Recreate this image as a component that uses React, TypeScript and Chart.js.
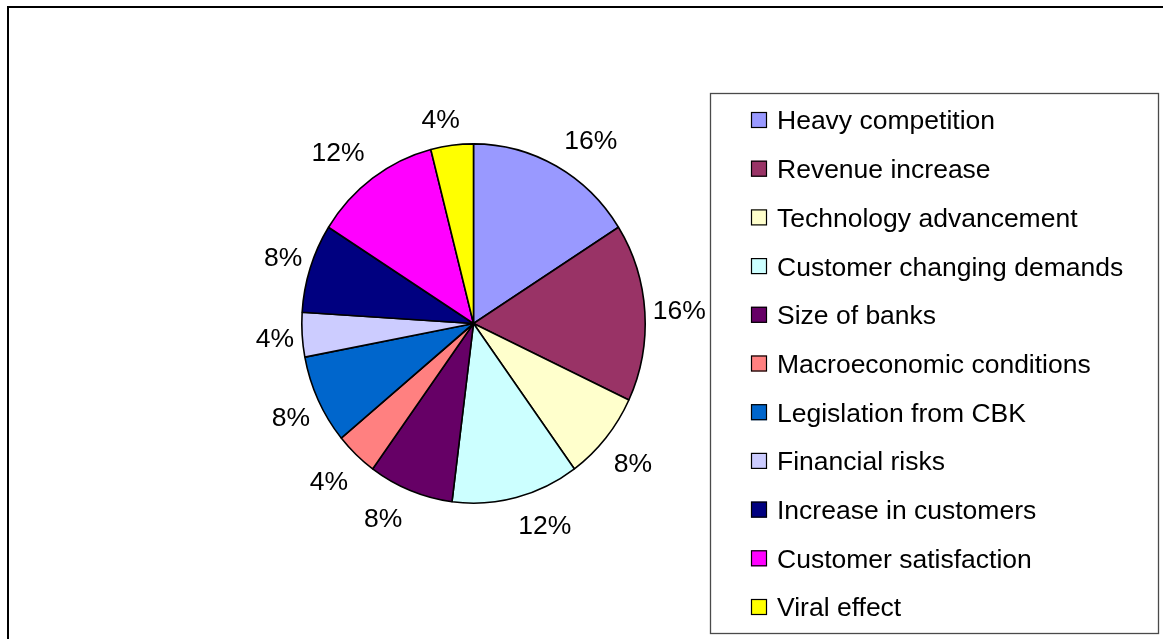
import React, { useEffect, useRef } from "react";
import { Chart, registerables } from "chart.js";

Chart.register(...registerables);

const categories: string[] = [
  "Heavy competition",
  "Revenue increase",
  "Technology advancement",
  "Customer changing demands",
  "Size of banks",
  "Macroeconomic conditions",
  "Legislation from CBK",
  "Financial risks",
  "Increase in customers",
  "Customer satisfaction",
  "Viral effect",
];

const shares: number[] = [16, 16, 8, 12, 8, 4, 8, 4, 8, 12, 4];

const sliceColors: string[] = [
  "#9999FF",
  "#993366",
  "#FFFFCC",
  "#CCFFFF",
  "#660066",
  "#FF8080",
  "#0066CC",
  "#CCCCFF",
  "#000080",
  "#FF00FF",
  "#FFFF00",
];

const W = 1163;
const H = 639;
const FONT = '"Liberation Sans", Arial, sans-serif';
const FS = 26.5;
const Y_STRETCH = 179.5 / 171.5;

const clamp = (v: number, a: number, b: number) => Math.max(a, Math.min(b, v));

const stretchPlugin = {
  id: "stretch",
  beforeDatasetsDraw(chart: any) {
    const arc = chart.getDatasetMeta(0).data[0];
    const ctx = chart.ctx;
    ctx.save();
    ctx.translate(arc.x, arc.y);
    ctx.scale(1, Y_STRETCH);
    ctx.translate(-arc.x, -arc.y);
  },
  afterDatasetsDraw(chart: any) {
    chart.ctx.restore();
  },
};

const decorPlugin = {
  id: "decor",
  afterDraw(chart: any) {
    const ctx: CanvasRenderingContext2D = chart.ctx;
    ctx.save();
    // outer frame (right/bottom edges lie outside the picture)
    ctx.strokeStyle = "#000";
    ctx.lineWidth = 2;
    ctx.strokeRect(8, 7, W + 20, H + 20);

    // percentage labels
    const meta = chart.getDatasetMeta(0);
    const total = shares.reduce((a, b) => a + b, 0);
    ctx.font = `${FS}px ${FONT}`;
    ctx.fillStyle = "#000";
    ctx.textAlign = "center";
    ctx.textBaseline = "alphabetic";
    const capH = FS * 0.716;
    meta.data.forEach((arc: any, i: number) => {
      const mid = (arc.startAngle + arc.endAngle) / 2;
      const c = Math.cos(mid);
      const s = Math.sin(mid);
      const rx = arc.outerRadius;
      const ry = arc.outerRadius * Y_STRETCH;
      const ex = arc.x + rx * c;
      const ey = arc.y + ry * s;
      const txt = Math.round((shares[i] / total) * 100) + "%";
      const w = ctx.measureText(txt).width;
      const sx = clamp(c / 0.3, -1, 1);
      const sy = clamp(s / 0.7, -1, 1);
      const cx = ex + sx * (w / 2 + 8);
      const cy = ey + sy * (capH / 2 + 17);
      ctx.fillText(txt, cx, cy + capH / 2);
    });

    // legend box
    const lx = 710;
    const ly = 93;
    const lr = 1158;
    const lb = 633;
    ctx.strokeStyle = "#4a4a4a";
    ctx.lineWidth = 1.3;
    ctx.strokeRect(lx + 0.5, ly + 0.5, lr - lx, lb - ly);

    ctx.textAlign = "left";
    const rowTop = 120;
    const rowStep = 48.7;
    categories.forEach((lab, i) => {
      const yc = rowTop + rowStep * i;
      ctx.fillStyle = sliceColors[i];
      ctx.fillRect(751, yc - 8, 16, 16);
      ctx.strokeStyle = "#000";
      ctx.lineWidth = 1.2;
      ctx.strokeRect(751.5, yc - 7.5, 15, 15);
      ctx.fillStyle = "#000";
      ctx.fillText(lab, 777, yc + capH / 2);
    });
    ctx.restore();
  },
};

export default function App() {
  const ref = useRef<HTMLCanvasElement | null>(null);
  useEffect(() => {
    if (!ref.current) return;
    const chart = new Chart(ref.current, {
      type: "pie",
      data: {
        labels: categories,
        datasets: [
          {
            data: shares,
            backgroundColor: sliceColors,
            borderColor: "#000",
            borderWidth: 1.6,
          },
        ],
      },
      options: {
        responsive: false,
        animation: false,
        devicePixelRatio: 1,
        events: [],
        layout: { padding: { left: 301, right: 517, top: 144, bottom: 136 } },
        plugins: {
          legend: { display: false },
          tooltip: { enabled: false },
          title: { display: false },
        },
      },
      plugins: [stretchPlugin, decorPlugin],
    });
    return () => chart.destroy();
  }, []);
  return (
    <div style={{ position: "fixed", left: 0, top: 0, width: W, height: H, background: "#fff" }}>
      <canvas ref={ref} width={W} height={H} style={{ display: "block" }} />
    </div>
  );
}
